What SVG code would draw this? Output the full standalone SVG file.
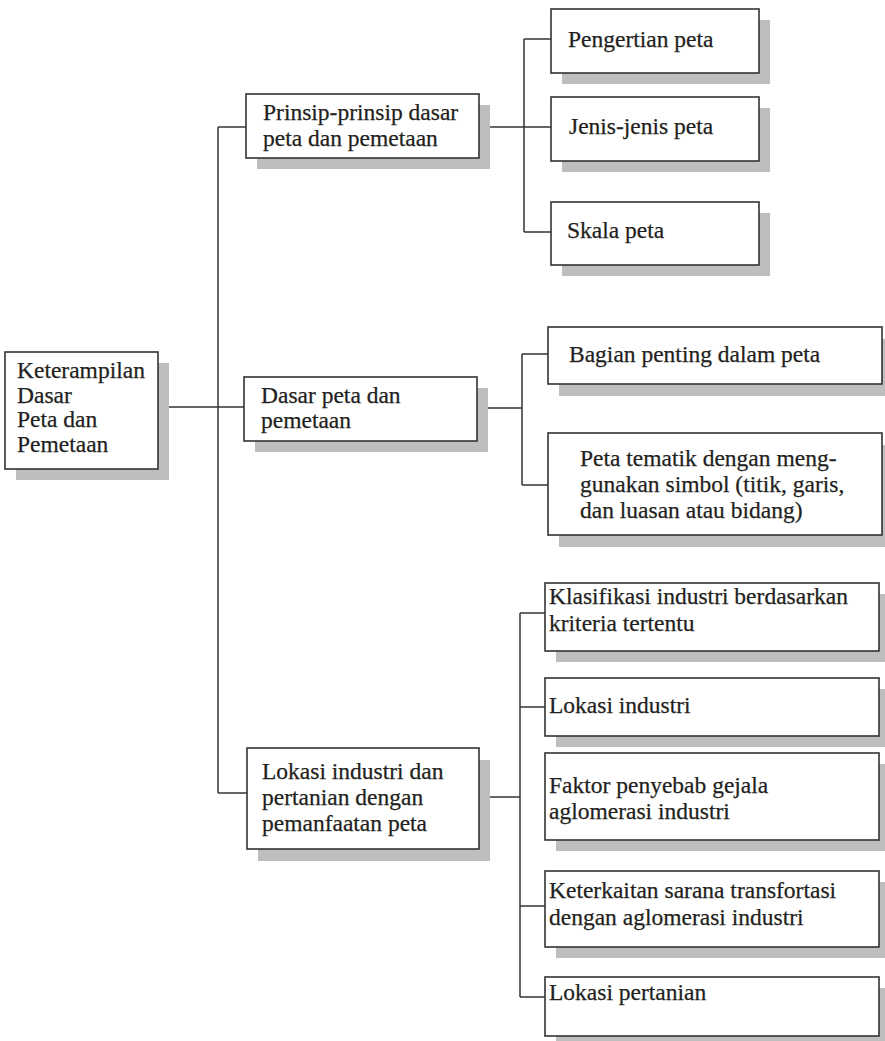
<svg xmlns="http://www.w3.org/2000/svg" width="885" height="1041" viewBox="0 0 885 1041">
<style>
  .sh { fill: #bcbec0; }
  .bx { fill: #ffffff; stroke: #333333; stroke-width: 1.6; }
  .t { font-family: "Liberation Serif", "Times New Roman", serif; font-size: 23.5px; fill: #231f20; stroke: #231f20; stroke-width: 0.25; }
  .c { stroke: #333333; stroke-width: 1.5; fill: none; }
</style>
<rect width="885" height="1041" fill="#ffffff"/>
<g id="connectors">
  <line class="c" x1="158" y1="407" x2="244" y2="407"/>
  <line class="c" x1="218" y1="127" x2="218" y2="793"/>
  <line class="c" x1="218" y1="127" x2="246" y2="127"/>
  <line class="c" x1="218" y1="793" x2="247" y2="793"/>
  <line class="c" x1="479" y1="127" x2="551" y2="127"/>
  <line class="c" x1="524" y1="39" x2="524" y2="232"/>
  <line class="c" x1="524" y1="39" x2="551" y2="39"/>
  <line class="c" x1="524" y1="232" x2="551" y2="232"/>
  <line class="c" x1="477" y1="408" x2="522" y2="408"/>
  <line class="c" x1="522" y1="354" x2="522" y2="485"/>
  <line class="c" x1="522" y1="354" x2="548" y2="354"/>
  <line class="c" x1="522" y1="485" x2="548" y2="485"/>
  <line class="c" x1="479" y1="797" x2="520" y2="797"/>
  <line class="c" x1="520" y1="613" x2="520" y2="997"/>
  <line class="c" x1="520" y1="613" x2="545" y2="613"/>
  <line class="c" x1="520" y1="707" x2="545" y2="707"/>
  <line class="c" x1="520" y1="906" x2="545" y2="906"/>
  <line class="c" x1="520" y1="997" x2="545" y2="997"/>
</g>
<g id="root">
  <rect class="sh" x="16" y="363" width="153" height="117"/>
  <rect class="bx" x="5" y="352" width="153" height="117"/>
  <text class="t" x="17" y="378">Keterampilan</text>
  <text class="t" x="17" y="402.5">Dasar</text>
  <text class="t" x="17" y="427">Peta dan</text>
  <text class="t" x="17" y="451.5">Pemetaan</text>
</g>
<g id="nodeA">
  <rect class="sh" x="257" y="105" width="233" height="64"/>
  <rect class="bx" x="246" y="94" width="233" height="64"/>
  <text class="t" x="263" y="120">Prinsip-prinsip dasar</text>
  <text class="t" x="263" y="146">peta dan pemetaan</text>
</g>
<g id="nodeB">
  <rect class="sh" x="255" y="388" width="233" height="64"/>
  <rect class="bx" x="244" y="377" width="233" height="64"/>
  <text class="t" x="261" y="403">Dasar peta dan</text>
  <text class="t" x="261" y="428">pemetaan</text>
</g>
<g id="nodeC">
  <rect class="sh" x="258" y="760" width="232" height="101"/>
  <rect class="bx" x="247" y="748" width="232" height="101"/>
  <text class="t" x="262" y="779">Lokasi industri dan</text>
  <text class="t" x="262" y="805">pertanian dengan</text>
  <text class="t" x="262" y="831">pemanfaatan peta</text>
</g>
<g id="nodeA1">
  <rect class="sh" x="562" y="20" width="208" height="64"/>
  <rect class="bx" x="551" y="9" width="208" height="64"/>
  <text class="t" x="568" y="47">Pengertian peta</text>
</g>
<g id="nodeA2">
  <rect class="sh" x="562" y="108" width="208" height="64"/>
  <rect class="bx" x="551" y="97" width="208" height="64"/>
  <text class="t" x="569" y="134">Jenis-jenis peta</text>
</g>
<g id="nodeA3">
  <rect class="sh" x="562" y="213" width="208" height="63"/>
  <rect class="bx" x="551" y="202" width="208" height="63"/>
  <text class="t" x="567" y="238">Skala peta</text>
</g>
<g id="nodeB1">
  <rect class="sh" x="559" y="339" width="334" height="57"/>
  <rect class="bx" x="548" y="327" width="334" height="57"/>
  <text class="t" x="569" y="362">Bagian penting dalam peta</text>
</g>
<g id="nodeB2">
  <rect class="sh" x="559" y="445" width="334" height="102"/>
  <rect class="bx" x="548" y="433" width="334" height="102"/>
  <text class="t" x="580" y="466">Peta tematik dengan meng-</text>
  <text class="t" x="580" y="492">gunakan simbol (titik, garis,</text>
  <text class="t" x="580" y="518">dan luasan atau bidang)</text>
</g>
<g id="nodeC1">
  <rect class="sh" x="556" y="594" width="334" height="68"/>
  <rect class="bx" x="545" y="583" width="334" height="68"/>
  <text class="t" x="549" y="604">Klasifikasi industri berdasarkan</text>
  <text class="t" x="549" y="631">kriteria tertentu</text>
</g>
<g id="nodeC2">
  <rect class="sh" x="556" y="689" width="334" height="58"/>
  <rect class="bx" x="545" y="678" width="334" height="58"/>
  <text class="t" x="549" y="713">Lokasi industri</text>
</g>
<g id="nodeC3">
  <rect class="sh" x="556" y="764" width="334" height="87"/>
  <rect class="bx" x="545" y="753" width="334" height="87"/>
  <text class="t" x="549" y="793">Faktor penyebab gejala</text>
  <text class="t" x="549" y="819">aglomerasi industri</text>
</g>
<g id="nodeC4">
  <rect class="sh" x="556" y="882" width="334" height="76"/>
  <rect class="bx" x="545" y="871" width="334" height="76"/>
  <text class="t" x="549" y="898">Keterkaitan sarana transfortasi</text>
  <text class="t" x="549" y="925">dengan aglomerasi industri</text>
</g>
<g id="nodeC5">
  <rect class="sh" x="556" y="988" width="334" height="59"/>
  <rect class="bx" x="545" y="977" width="334" height="59"/>
  <text class="t" x="549" y="1000">Lokasi pertanian</text>
</g>
</svg>
